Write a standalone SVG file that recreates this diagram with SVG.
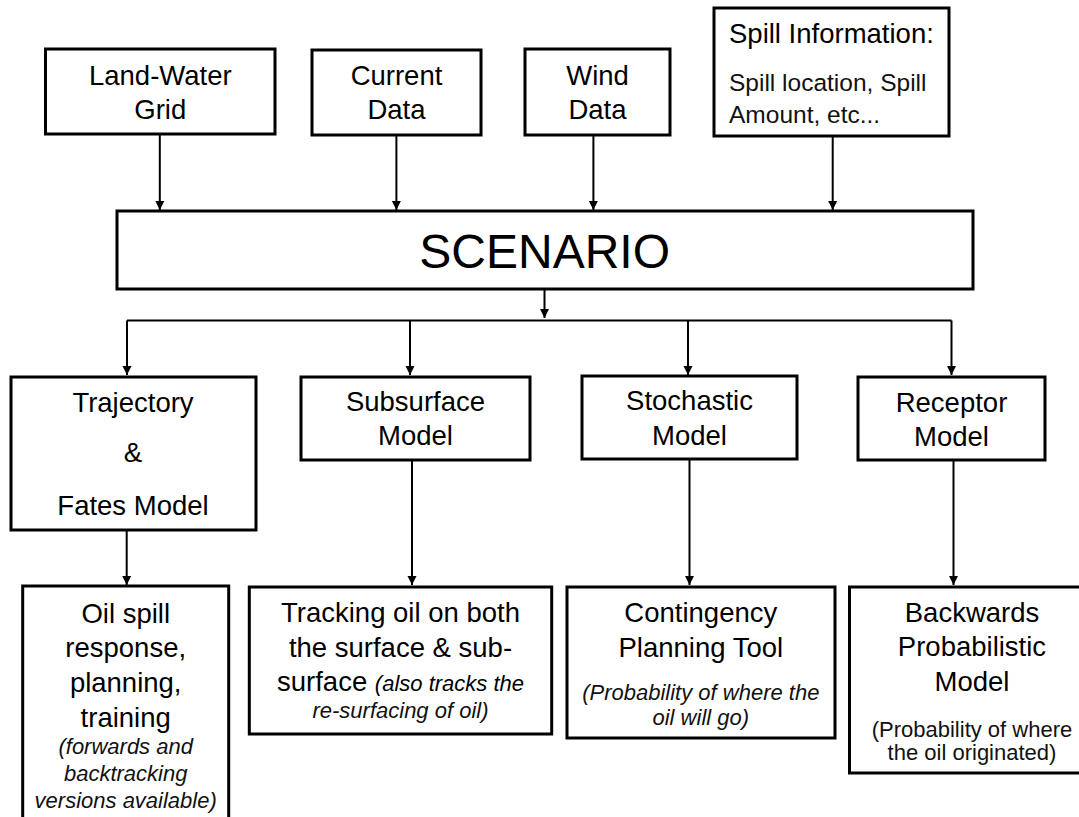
<svg xmlns="http://www.w3.org/2000/svg" width="1079" height="817" viewBox="0 0 1079 817">
  <defs>
    <style>
      .box { fill: #ffffff; stroke: #000000; stroke-width: 3; }
      .lbl { font-family: "Liberation Sans", Arial, sans-serif; font-size: 27.5px; fill: #000000; text-anchor: middle; }
      .big { font-family: "Liberation Sans", Arial, sans-serif; font-size: 48px; fill: #000000; text-anchor: middle; }
      .sub { font-family: "Liberation Sans", Arial, sans-serif; font-size: 24.5px; fill: #111111; }
      .note { font-family: "Liberation Sans", Arial, sans-serif; font-size: 22px; fill: #111111; text-anchor: middle; }
      .it { font-style: italic; }
      .wire { fill: none; stroke: #000000; stroke-width: 2; }
    </style>
    <marker id="arrow" markerUnits="userSpaceOnUse" markerWidth="10" markerHeight="11" refX="9" refY="5" orient="auto">
      <path d="M0,0.5 L9,5 L0,9.5 Z" fill="#000000"/>
    </marker>
  </defs>
  <rect width="1079" height="817" fill="#ffffff"/>

  <!-- connectors -->
  <g id="connectors" class="wire">
    <line x1="159.8" y1="135" x2="159.8" y2="210" marker-end="url(#arrow)"/>
    <line x1="396.4" y1="136" x2="396.4" y2="210" marker-end="url(#arrow)"/>
    <line x1="593.4" y1="136" x2="593.4" y2="210" marker-end="url(#arrow)"/>
    <line x1="832.7" y1="137" x2="832.7" y2="210" marker-end="url(#arrow)"/>
    <line x1="544.5" y1="290" x2="544.5" y2="318" marker-end="url(#arrow)"/>
    <path d="M127,320.5 H951.5"/>
    <line x1="127" y1="320.5" x2="127" y2="375" marker-end="url(#arrow)"/>
    <line x1="410" y1="320.5" x2="410" y2="375" marker-end="url(#arrow)"/>
    <line x1="688" y1="320.5" x2="688" y2="375" marker-end="url(#arrow)"/>
    <line x1="951.5" y1="320.5" x2="951.5" y2="375" marker-end="url(#arrow)"/>
    <line x1="126.7" y1="531" x2="126.7" y2="585" marker-end="url(#arrow)"/>
    <line x1="412" y1="461" x2="412" y2="585" marker-end="url(#arrow)"/>
    <line x1="689.5" y1="460" x2="689.5" y2="585" marker-end="url(#arrow)"/>
    <line x1="953.5" y1="461" x2="953.5" y2="585" marker-end="url(#arrow)"/>
  </g>

  <!-- inputs -->
  <g id="land-water-grid">
    <rect class="box" x="45.5" y="49" width="229.5" height="85"/>
    <text class="lbl" x="160.3" y="85">Land-Water</text>
    <text class="lbl" x="160.3" y="118.5">Grid</text>
  </g>
  <g id="current-data">
    <rect class="box" x="312" y="50" width="169" height="85"/>
    <text class="lbl" x="396.5" y="85">Current</text>
    <text class="lbl" x="396.5" y="118.5">Data</text>
  </g>
  <g id="wind-data">
    <rect class="box" x="525" y="49" width="145" height="86"/>
    <text class="lbl" x="597.5" y="85">Wind</text>
    <text class="lbl" x="597.5" y="118.5">Data</text>
  </g>
  <g id="spill-information">
    <rect class="box" x="714" y="8" width="235" height="128"/>
    <text class="lbl" x="729" y="43" style="text-anchor:start">Spill Information:</text>
    <text class="sub" x="729" y="91">Spill location, Spill</text>
    <text class="sub" x="729" y="123">Amount, etc...</text>
  </g>

  <!-- scenario -->
  <g id="scenario">
    <rect class="box" x="117" y="211" width="856" height="78"/>
    <text class="big" x="544.7" y="268">SCENARIO</text>
  </g>

  <!-- models -->
  <g id="trajectory-fates-model">
    <rect class="box" x="11" y="377" width="245" height="153"/>
    <text class="lbl" x="133" y="411.7">Trajectory</text>
    <text class="lbl" x="133" y="462">&amp;</text>
    <text class="lbl" x="133" y="515">Fates Model</text>
  </g>
  <g id="subsurface-model">
    <rect class="box" x="301" y="377" width="229" height="83"/>
    <text class="lbl" x="415.5" y="411">Subsurface</text>
    <text class="lbl" x="415.5" y="445">Model</text>
  </g>
  <g id="stochastic-model">
    <rect class="box" x="582" y="376" width="215" height="83"/>
    <text class="lbl" x="689.5" y="410">Stochastic</text>
    <text class="lbl" x="689.5" y="445">Model</text>
  </g>
  <g id="receptor-model">
    <rect class="box" x="858" y="377" width="187" height="83"/>
    <text class="lbl" x="951.5" y="411.5">Receptor</text>
    <text class="lbl" x="951.5" y="445.5">Model</text>
  </g>

  <!-- outputs -->
  <g id="oil-spill-response">
    <rect class="box" x="22.7" y="586" width="206" height="260"/>
    <text class="lbl" x="125.7" y="622.7">Oil spill</text>
    <text class="lbl" x="125.7" y="657.3">response,</text>
    <text class="lbl" x="125.7" y="692.3">planning,</text>
    <text class="lbl" x="125.7" y="726.7">training</text>
    <text class="note it" x="125.7" y="754.3">(forwards and</text>
    <text class="note it" x="125.7" y="781">backtracking</text>
    <text class="note it" x="125.7" y="807.7">versions available)</text>
  </g>
  <g id="tracking-oil">
    <rect class="box" x="249.3" y="587" width="302.4" height="147"/>
    <text class="lbl" x="400.5" y="622.3">Tracking oil on both</text>
    <text class="lbl" x="400.5" y="657.3">the surface &amp; sub-</text>
    <text class="lbl" x="400.5" y="691">surface <tspan class="it" style="font-size:22px">(also tracks the</tspan></text>
    <text class="note it" x="400.5" y="718.3">re-surfacing of oil)</text>
  </g>
  <g id="contingency-planning-tool">
    <rect class="box" x="567" y="587" width="268" height="151"/>
    <text class="lbl" x="700.8" y="621.7">Contingency</text>
    <text class="lbl" x="700.8" y="656.7">Planning Tool</text>
    <text class="note it" x="700.8" y="700">(Probability of where the</text>
    <text class="note it" x="700.8" y="725">oil will go)</text>
  </g>
  <g id="backwards-probabilistic-model">
    <rect class="box" x="849.5" y="587" width="250" height="186"/>
    <text class="lbl" x="972" y="621.7">Backwards</text>
    <text class="lbl" x="972" y="656">Probabilistic</text>
    <text class="lbl" x="972" y="690.7">Model</text>
    <text class="note" x="972" y="736.7">(Probability of where</text>
    <text class="note" x="972" y="760">the oil originated)</text>
  </g>
</svg>
